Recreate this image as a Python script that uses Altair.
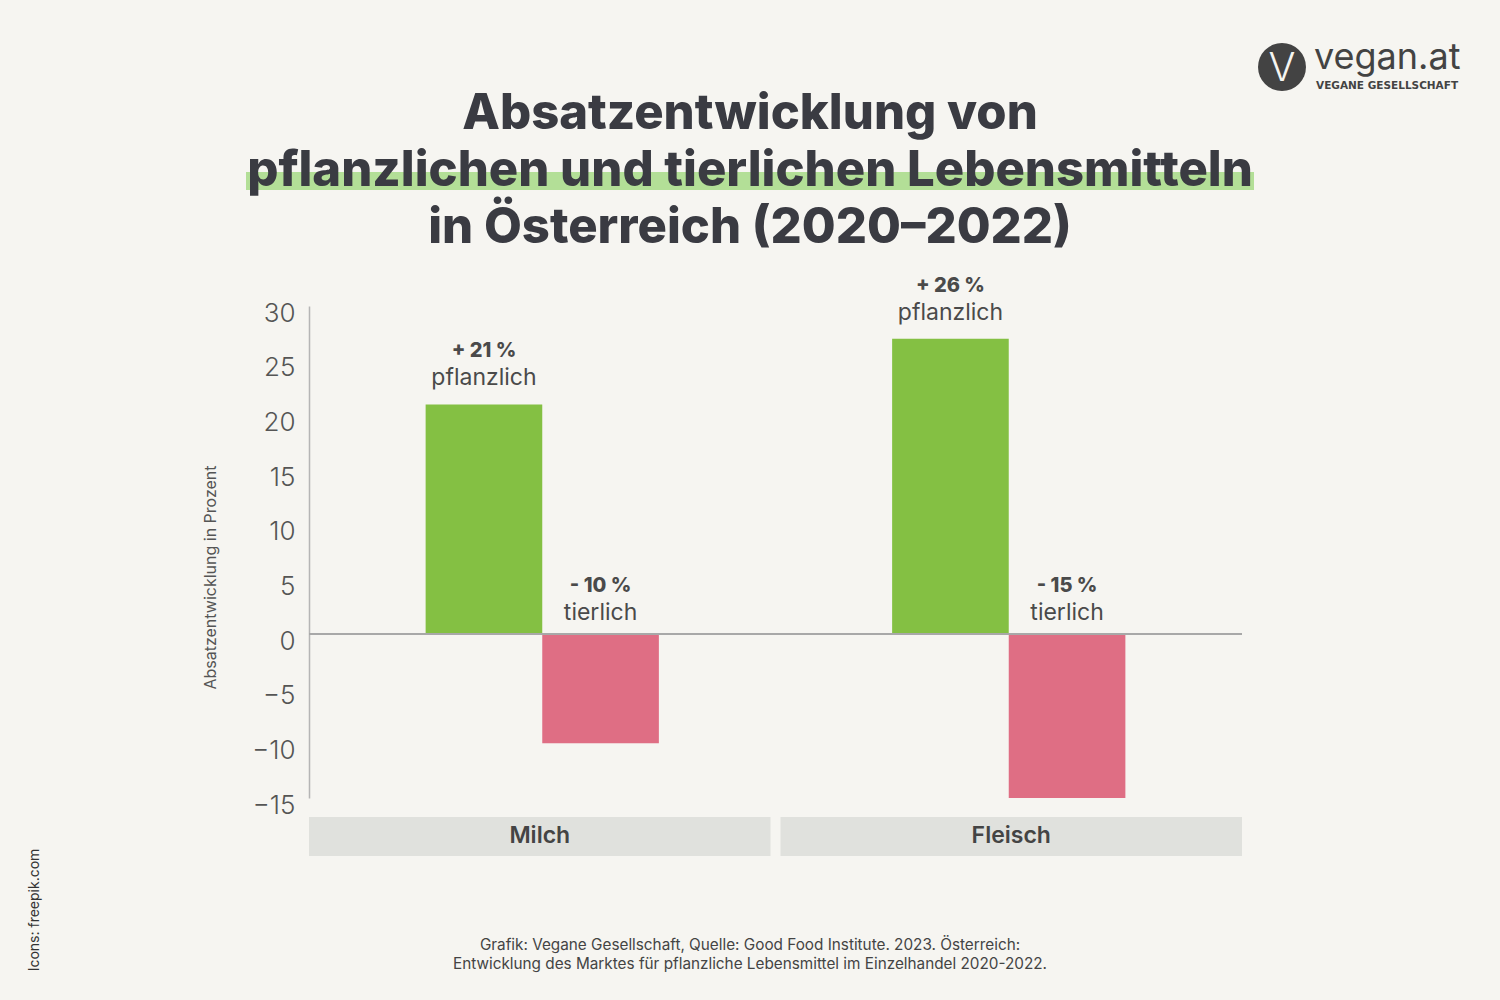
import altair as alt
import pandas as pd

groups = ["Milch", "Milch", "Fleisch", "Fleisch"]
kinds = ["pflanzlich", "tierlich", "pflanzlich", "tierlich"]
values = [21, -10, 27, -15]
pct_labels = ["+ 21 %", "- 10 %", "+ 26 %", "- 15 %"]
group_order = ["Milch", "Fleisch"]
kind_order = ["pflanzlich", "tierlich"]
kind_colors = ["#84c043", "#df6e84"]
y_ticks = [-15, -10, -5, 0, 5, 10, 15, 20, 25, 30]

title_lines = ["Absatzentwicklung von", "pflanzlichen und tierlichen Lebensmitteln", "in Österreich (2020–2022)"]
footer_lines = ["Grafik: Vegane Gesellschaft, Quelle: Good Food Institute. 2023. Österreich:",
                "Entwicklung des Marktes für pflanzliche Lebensmittel im Einzelhandel 2020-2022."]

df = pd.DataFrame({"group": groups, "kind": kinds, "value": values, "pct": pct_labels})
hdr = pd.DataFrame({"group": group_order})

FONT = "Inter"
BG = "#f6f5f1"

g_arr = "[" + ",".join("'%s'" % g for g in group_order) + "]"
k_arr = "[" + ",".join("'%s'" % k for k in kind_order) + "]"
# each group spans 4 slots: empty, pflanzlich, tierlich, empty
slot_expr = "indexof(%s, datum.group) * 4 + 1 + indexof(%s, datum.kind)" % (g_arr, k_arr)

xq = alt.Scale(domain=[0, 4 * len(group_order)], nice=False, zero=False)
xs = alt.Scale(domain=group_order, paddingInner=0.0212, paddingOuter=0)
ys = alt.Scale(domain=[-15, 30], nice=False, zero=False)

base = alt.Chart(df).transform_calculate(
    x0=slot_expr, x1=slot_expr + " + 1", xm=slot_expr + " + 0.5",
    top="datum.value > 0 ? datum.value : -0.45",
)

bars = base.mark_bar().encode(
    x=alt.X("x0:Q", scale=xq, axis=None),
    x2="x1:Q",
    y=alt.Y("value:Q", scale=ys,
            axis=alt.Axis(values=y_ticks, ticks=False, grid=False, domainColor="#b5b5b5",
                          domainWidth=1.5, labelFontSize=26, labelColor="#555555",
                          labelFont=FONT, labelFontWeight=300, labelPadding=14, labelOffset=7,
                          title="Absatzentwicklung in Prozent", titleFontSize=16,
                          titleFontWeight="normal", titleColor="#555555", titleFont=FONT,
                          titleX=-99, titleY=271, titleAngle=-90, titleBaseline="middle",
                          titleAlign="center")),
    y2=alt.datum(0),
    color=alt.Color("kind:N", scale=alt.Scale(domain=kind_order, range=kind_colors), legend=None),
)

zero = alt.Chart(df).mark_rule(color="#a9a9a9", strokeWidth=1.5).encode(
    y=alt.Y("z:Q", scale=ys)).transform_calculate(z="0")

pct_text = base.mark_text(font=FONT, fontWeight=800, fontSize=20, color="#4a4a4a", dy=-53).encode(
    x=alt.X("xm:Q", scale=xq, axis=None),
    y=alt.Y("top:Q", scale=ys),
    text="pct:N",
)
kind_text = base.mark_text(font=FONT, fontWeight=400, fontSize=23, color="#4a4a4a", dy=-26).encode(
    x=alt.X("xm:Q", scale=xq, axis=None),
    y=alt.Y("top:Q", scale=ys),
    text="kind:N",
)

hdr_rect = alt.Chart(hdr).mark_rect(color="#e0e1dd").encode(
    x=alt.X("group:N", scale=xs, sort=group_order, axis=None),
    y=alt.value(511), y2=alt.value(550),
)
hdr_text = alt.Chart(hdr).mark_text(font=FONT, fontWeight=600, fontSize=23, color="#444444").encode(
    x=alt.X("group:N", scale=xs, sort=group_order, axis=None),
    y=alt.value(530),
    text="group:N",
)
headers = alt.layer(hdr_rect, hdr_text)

one = pd.DataFrame({"a": [0]})
highlight = alt.Chart(one).mark_rule(color="#b3df97", strokeWidth=18).encode(
    x=alt.value(-63), x2=alt.value(945), y=alt.value(-125))
title = alt.Chart(one).mark_text(text=title_lines, font=FONT, fontWeight=800, fontSize=49,
                                 color="#3a3b42", lineHeight=57, baseline="middle").encode(
    x=alt.value(441), y=alt.value(-192))
footer = alt.Chart(one).mark_text(text=footer_lines, font=FONT, fontSize=15.3, color="#444444",
                                  lineHeight=19, baseline="middle").encode(
    x=alt.value(441), y=alt.value(639))
icons = alt.Chart(one).mark_text(text="Icons: freepik.com", font=FONT, fontSize=14, color="#333333",
                                 angle=270, baseline="middle").encode(
    x=alt.value(-274), y=alt.value(604))
logo_circle = alt.Chart(one).mark_point(shape="circle", filled=True, opacity=1, color="#434343",
                                        size=2300).encode(x=alt.value(973), y=alt.value(-239))
logo_v = alt.Chart(one).mark_text(text="V", font=FONT, fontWeight=300, fontSize=40, color=BG,
                                  baseline="middle").encode(x=alt.value(973), y=alt.value(-237))
logo_word = alt.Chart(one).mark_text(text="vegan.at", font=FONT, fontWeight=400, fontSize=36,
                                     color="#434343", align="left", baseline="alphabetic").encode(
    x=alt.value(1005), y=alt.value(-237))
logo_sub = alt.Chart(one).mark_text(text="VEGANE GESELLSCHAFT", font="DejaVu Sans", fontWeight="bold",
                                    fontSize=10.5, color="#434343", align="left",
                                    baseline="middle").encode(
    x=alt.value(1007), y=alt.value(-220))

chart = alt.layer(
    headers, bars, zero, pct_text, kind_text,
    highlight, title, footer, icons, logo_circle, logo_v, logo_word, logo_sub,
).resolve_scale(x="independent").properties(
    width=933, height=492,
    padding={"left": 309, "top": 306, "right": 258, "bottom": 202},
    autosize=alt.AutoSizeParams(type="none"),
    background=BG,
).configure_view(stroke=None)

chart.save("out.html", embed_options={"renderer": "svg", "actions": False})
